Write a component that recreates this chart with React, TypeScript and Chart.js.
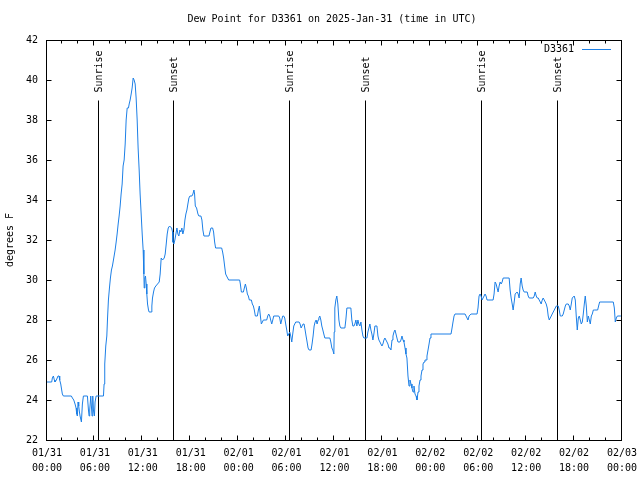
import React, { useEffect, useRef } from "react";
import { Chart, registerables } from "chart.js";

Chart.register(...registerables);

// ---------- text ----------
const TITLE = "Dew Point for D3361 on 2025-Jan-31 (time in UTC)";
const Y_LABEL = "degrees F";
const SERIES_LABEL = "D3361";

// ---------- axes ----------
const xTickDates = ["01/31", "01/31", "01/31", "01/31", "02/01", "02/01", "02/01", "02/01", "02/02", "02/02", "02/02", "02/02", "02/03"];
const xTickTimes = ["00:00", "06:00", "12:00", "18:00", "00:00", "06:00", "12:00", "18:00", "00:00", "06:00", "12:00", "18:00", "00:00"];
const xMinHours = 0;
const xMaxHours = 72;
const xMajorStepHours = 6;
const xMinorStepHours = 2;
const yMin = 22;
const yMax = 42;
const yStep = 2;

// ---------- sunrise / sunset markers (hours since 01/31 00:00 UTC) ----------
const eventHours = [6.39, 15.84, 30.37, 39.88, 54.41, 63.92];
const eventLabels = ["Sunrise", "Sunset", "Sunrise", "Sunset", "Sunrise", "Sunset"];
const eventLineTopF = 39;

// ---------- series: hours since 01/31 00:00 UTC ----------
const hours = [
  0.0, 0.59, 0.67, 0.8, 0.92, 1.0, 1.17, 1.38, 1.51, 1.59, 1.72, 1.84, 1.92, 2.05, 3.05, 3.18, 3.35, 3.51, 3.64, 3.72,
  3.8, 3.89, 3.97, 4.06, 4.14, 4.22, 4.31, 4.43, 4.56, 5.06, 5.19, 5.27, 5.35, 5.48, 5.56, 5.64, 5.73, 5.81, 5.94, 6.02,
  6.15, 7.07, 7.15, 7.23, 7.36, 7.49, 7.57, 7.69, 7.82, 7.94, 8.07, 8.19, 8.32, 8.53, 8.66, 8.78, 8.91, 9.03, 9.16, 9.28,
  9.41, 9.53, 9.66, 9.79, 9.91, 10.04, 10.2, 10.29, 10.41, 10.54, 10.66, 10.79, 10.91, 11.04, 11.16, 11.29, 11.41, 11.54, 11.66, 11.79,
  11.92, 12.04, 12.13, 12.17, 12.25, 12.33, 12.42, 12.5, 12.59, 12.71, 12.79, 13.05, 13.13, 13.21, 13.34, 13.46, 13.63, 13.84, 14.05, 14.17,
  14.3, 14.47, 14.68, 14.8, 14.93, 15.05, 15.18, 15.35, 15.6, 15.72, 15.76, 15.89, 16.01, 16.14, 16.27, 16.39, 16.51, 16.64, 16.76, 16.89,
  17.01, 17.14, 17.27, 17.39, 17.52, 17.64, 17.77, 17.9, 18.15, 18.27, 18.4, 18.48, 18.57, 18.73, 18.9, 19.02, 19.27, 19.4, 19.52, 19.65,
  20.28, 20.4, 20.53, 20.74, 20.86, 20.99, 21.11, 21.87, 21.99, 22.12, 22.24, 22.37, 22.49, 22.62, 22.75, 24.12, 24.21, 24.34, 24.59, 24.71,
  24.84, 24.96, 25.09, 25.21, 25.34, 25.59, 25.71, 25.84, 25.96, 26.09, 26.34, 26.47, 26.59, 26.72, 26.84, 26.97, 27.09, 27.51, 27.64, 27.76,
  27.89, 28.01, 28.14, 28.27, 28.39, 29.02, 29.14, 29.27, 29.39, 29.52, 29.64, 29.77, 29.89, 30.02, 30.14, 30.27, 30.4, 30.52, 30.65, 30.77,
  30.9, 31.02, 31.15, 31.57, 31.69, 31.82, 31.94, 32.07, 32.19, 32.32, 32.44, 32.57, 32.69, 32.82, 33.07, 33.19, 33.32, 33.45, 33.57, 33.7,
  33.82, 33.95, 34.04, 34.16, 34.29, 34.41, 34.54, 34.66, 34.79, 35.42, 35.54, 35.67, 35.79, 35.92, 35.96, 36.04, 36.17, 36.29, 36.42, 36.55,
  36.67, 36.8, 37.3, 37.42, 37.55, 38.05, 38.17, 38.3, 38.43, 38.55, 38.68, 38.8, 38.93, 39.05, 39.18, 39.31, 39.43, 39.56, 39.68, 40.06,
  40.18, 40.31, 40.43, 40.56, 40.68, 40.81, 40.93, 41.06, 41.31, 41.44, 41.56, 41.69, 41.81, 41.94, 42.06, 42.19, 42.31, 42.44, 42.57, 42.69,
  42.82, 42.94, 43.07, 43.2, 43.32, 43.45, 43.57, 43.7, 43.82, 43.95, 44.2, 44.32, 44.45, 44.58, 44.7, 44.83, 44.95, 45.07, 45.2, 45.33,
  45.45, 45.58, 45.7, 45.83, 45.95, 46.08, 46.21, 46.33, 46.46, 46.58, 46.71, 46.83, 46.96, 47.08, 47.21, 47.33, 47.46, 47.58, 47.71, 47.84,
  47.96, 48.08, 50.59, 50.72, 50.84, 50.97, 51.09, 52.35, 52.47, 52.72, 52.85, 53.1, 53.85, 53.97, 54.1, 54.23, 54.35, 54.48, 54.6, 54.73,
  54.85, 54.98, 55.1, 55.86, 55.98, 56.11, 56.24, 56.36, 56.49, 56.61, 56.74, 56.87, 56.99, 57.12, 57.87, 57.99, 58.12, 58.25, 58.37, 58.5,
  58.62, 58.87, 59.0, 59.12, 59.25, 59.37, 59.5, 59.62, 59.75, 60.13, 60.25, 60.38, 60.88, 61.01, 61.13, 61.26, 61.38, 61.51, 61.63, 61.76,
  61.88, 62.01, 62.13, 62.26, 62.39, 62.51, 62.64, 62.76, 62.89, 63.01, 63.14, 63.26, 63.39, 63.52, 63.64, 63.77, 63.89, 64.02, 64.14, 64.27,
  64.39, 64.52, 64.64, 64.77, 64.9, 65.02, 65.27, 65.4, 65.52, 65.65, 65.77, 66.02, 66.15, 66.27, 66.4, 66.53, 66.65, 66.78, 66.9, 67.03,
  67.15, 67.28, 67.4, 67.53, 67.66, 67.78, 67.91, 68.03, 68.16, 68.28, 68.41, 68.53, 68.95, 69.07, 69.2, 70.91, 71.04, 71.16, 71.29, 71.42,
  71.83, 72.0,
];

// ---------- series: dew point, degrees F ----------
const dewPointF = [
  24.9, 24.9, 25.1, 25.2, 25.0, 24.9, 25.0, 25.2, 25.2, 25.0, 24.8, 24.5, 24.3, 24.2, 24.2, 24.1, 24.0, 23.8, 23.6, 23.3,
  23.2, 23.9, 23.7, 23.4, 23.2, 23.2, 22.9, 23.8, 24.2, 24.2, 23.5, 23.2, 23.5, 24.2, 23.7, 23.2, 24.2, 23.5, 23.2, 23.9,
  24.2, 24.2, 24.8, 25.8, 26.7, 27.2, 28.0, 29.0, 29.6, 30.1, 30.5, 30.7, 31.0, 31.5, 31.9, 32.3, 32.8, 33.2, 33.7, 34.3,
  34.8, 35.7, 36.0, 36.8, 38.0, 38.6, 38.6, 38.8, 39.0, 39.3, 39.6, 40.1, 40.0, 39.8, 39.1, 38.0, 36.6, 35.5, 34.3, 33.3,
  32.3, 31.5, 30.3, 29.6, 30.1, 30.2, 29.8, 29.3, 28.8, 28.5, 28.4, 28.4, 28.7, 29.1, 29.4, 29.6, 29.7, 29.8, 29.9, 30.3,
  31.1, 31.0, 31.1, 31.3, 31.8, 32.3, 32.6, 32.7, 32.6, 32.4, 31.9, 31.8, 32.0, 32.3, 32.6, 32.3, 32.2, 32.5, 32.4, 32.6,
  32.3, 32.5, 33.0, 33.3, 33.5, 33.8, 34.1, 34.2, 34.2, 34.3, 34.5, 34.3, 33.7, 33.6, 33.3, 33.2, 33.2, 33.0, 32.5, 32.2,
  32.2, 32.4, 32.6, 32.6, 32.4, 31.9, 31.6, 31.6, 31.4, 31.1, 30.7, 30.3, 30.2, 30.1, 30.0, 30.0, 29.8, 29.4, 29.4, 29.6,
  29.8, 29.6, 29.3, 29.2, 29.0, 29.0, 28.8, 28.7, 28.5, 28.2, 28.2, 28.5, 28.7, 28.2, 27.8, 27.9, 28.0, 28.0, 28.2, 28.3,
  28.2, 28.0, 27.8, 28.0, 28.2, 28.2, 28.1, 27.8, 28.0, 28.2, 28.2, 28.1, 27.8, 27.5, 27.2, 27.3, 27.4, 27.2, 26.9, 27.3,
  27.7, 27.8, 27.9, 27.9, 27.8, 27.6, 27.7, 27.8, 27.8, 27.5, 27.2, 26.9, 26.6, 26.5, 26.5, 26.8, 27.2, 27.7, 27.9, 28.0,
  27.8, 28.0, 28.1, 28.2, 28.0, 27.7, 27.5, 27.3, 27.1, 27.1, 26.9, 26.6, 26.5, 26.3, 27.4, 28.6, 29.0, 29.2, 28.8, 28.0,
  27.7, 27.6, 27.6, 28.0, 28.6, 28.6, 28.0, 27.7, 27.7, 27.8, 28.0, 27.7, 28.0, 27.8, 27.7, 27.9, 27.5, 27.2, 27.1, 27.1,
  27.4, 27.6, 27.8, 27.5, 27.3, 27.0, 27.3, 27.7, 27.7, 27.2, 27.0, 26.9, 26.8, 26.7, 26.8, 27.0, 27.1, 27.0, 26.9, 26.8,
  26.6, 26.6, 26.5, 27.0, 27.2, 27.4, 27.5, 27.3, 27.1, 26.9, 26.9, 27.0, 27.2, 27.0, 26.9, 26.6, 26.3, 26.1, 25.2, 24.7,
  25.0, 24.8, 24.6, 24.4, 24.7, 24.3, 24.2, 24.0, 24.4, 24.7, 25.0, 25.2, 25.5, 25.8, 25.9, 26.0, 26.0, 26.2, 26.5, 26.8,
  27.1, 27.3, 27.3, 27.6, 27.9, 28.2, 28.3, 28.3, 28.2, 28.0, 28.2, 28.3, 28.3, 28.6, 29.2, 29.3, 29.2, 29.0, 29.1, 29.2,
  29.3, 29.2, 29.0, 29.0, 29.3, 29.9, 29.8, 29.6, 29.4, 29.7, 29.9, 29.8, 29.9, 30.1, 30.1, 29.5, 29.1, 28.8, 28.5, 28.9,
  29.3, 29.4, 29.3, 29.1, 29.8, 30.1, 29.7, 29.5, 29.4, 29.4, 29.2, 29.1, 29.1, 29.2, 29.4, 29.2, 29.1, 29.1, 29.0, 28.9,
  28.8, 29.0, 29.1, 29.0, 28.9, 28.8, 28.6, 28.2, 28.0, 28.1, 28.2, 28.3, 28.4, 28.5, 28.6, 28.7, 28.7, 28.7, 28.5, 28.2,
  28.2, 28.2, 28.3, 28.5, 28.7, 28.8, 28.8, 28.7, 28.5, 28.8, 29.1, 29.2, 29.0, 28.2, 27.5, 28.1, 28.2, 28.0, 27.8, 27.9,
  28.3, 28.8, 29.2, 28.7, 27.9, 28.2, 28.0, 27.8, 28.2, 28.3, 28.5, 28.5, 28.5, 28.7, 28.9, 28.9, 28.6, 27.9, 28.1, 28.2,
  28.2, 28.2,
];

// ---------- styles ----------
const FONT_FAMILY = '"DejaVu Sans Mono", "Liberation Mono", monospace';
const FONT = `10px ${FONT_FAMILY}`;
const LINE_COLOR = "#1c7fe6";

const decorPlugin = {
  id: "decor",
  beforeDatasetsDraw(chart: any) {
    const { ctx, chartArea: a, scales } = chart;
    const x = scales.x;
    const y = scales.y;
    ctx.save();
    ctx.strokeStyle = "#000";
    ctx.fillStyle = "#000";
    ctx.lineWidth = 1;
    ctx.font = FONT;
    const topY = Math.round(y.getPixelForValue(eventLineTopF)) + 0.5;
    eventHours.forEach((h, i) => {
      const px = Math.round(x.getPixelForValue(h) - 0.5) + 0.5;
      ctx.beginPath();
      ctx.moveTo(px, topY);
      ctx.lineTo(px, a.bottom);
      ctx.stroke();
      ctx.save();
      ctx.translate(px + 1, topY - 8);
      ctx.rotate(-Math.PI / 2);
      ctx.textAlign = "left";
      ctx.textBaseline = "middle";
      ctx.fillText(eventLabels[i], 0, 0);
      ctx.restore();
    });
    ctx.restore();
  },
  afterDatasetsDraw(chart: any) {
    const { ctx, chartArea: a, scales } = chart;
    const x = scales.x;
    const y = scales.y;
    const L = a.left - 0.5;
    const R = a.right - 0.5;
    const T = a.top + 0.5;
    const B = a.bottom + 0.5;
    ctx.save();
    ctx.strokeStyle = "#000";
    ctx.lineWidth = 1;
    // frame
    ctx.strokeRect(L, T, R - L, B - T);
    // x ticks (bottom and mirrored at top)
    ctx.beginPath();
    for (let h = xMinHours; h <= xMaxHours; h += xMinorStepHours) {
      const px = Math.floor(x.getPixelForValue(h)) - 0.5;
      const len = h % xMajorStepHours === 0 ? 5 : 3;
      ctx.moveTo(px, B);
      ctx.lineTo(px, B - len);
      ctx.moveTo(px, T);
      ctx.lineTo(px, T + len);
    }
    // y ticks (left and mirrored at right)
    for (let v = yMin; v <= yMax; v += yStep) {
      const py = Math.round(y.getPixelForValue(v)) + 0.5;
      ctx.moveTo(L, py);
      ctx.lineTo(L + 5, py);
      ctx.moveTo(R, py);
      ctx.lineTo(R - 5, py);
    }
    ctx.stroke();

    // legend (text then line sample, top right)
    ctx.font = FONT;
    ctx.fillStyle = "#000";
    ctx.textAlign = "right";
    ctx.textBaseline = "middle";
    ctx.fillText(chart.data.datasets[0].label, 574, 49);
    ctx.strokeStyle = LINE_COLOR;
    ctx.beginPath();
    ctx.moveTo(582, 49.5);
    ctx.lineTo(611, 49.5);
    ctx.stroke();

    // title
    ctx.fillStyle = "#000";
    ctx.textAlign = "center";
    ctx.fillText(TITLE, 332, 19);

    // y axis label
    ctx.save();
    ctx.translate(10, 240);
    ctx.rotate(-Math.PI / 2);
    ctx.textAlign = "center";
    ctx.textBaseline = "middle";
    ctx.fillText(Y_LABEL, 0, 0);
    ctx.restore();

    ctx.restore();
  },
};

export default function App() {
  const canvasRef = useRef<HTMLCanvasElement | null>(null);

  useEffect(() => {
    const canvas = canvasRef.current;
    if (!canvas) return;
    const points = hours.map((h, i) => ({ x: h, y: dewPointF[i] }));
    const chart = new Chart(canvas, {
      type: "line",
      data: {
        datasets: [
          {
            label: SERIES_LABEL,
            data: points,
            borderColor: LINE_COLOR,
            backgroundColor: LINE_COLOR,
            borderWidth: 1,
            pointRadius: 0,
            tension: 0,
            fill: false,
          },
        ],
      },
      options: {
        animation: false,
        responsive: false,
        devicePixelRatio: 1,
        parsing: false as any,
        layout: { padding: { top: 40, right: 18, left: 0, bottom: 0 } },
        plugins: {
          legend: { display: false },
          title: { display: false },
          tooltip: { enabled: false },
        },
        scales: {
          x: {
            type: "linear",
            min: xMinHours,
            max: xMaxHours,
            afterFit: (s: any) => {
              s.height = 40;
              s.paddingLeft = 0;
              s.paddingRight = 0;
            },
            grid: { display: false, drawTicks: false },
            border: { display: false },
            ticks: {
              stepSize: xMajorStepHours,
              autoSkip: false,
              maxRotation: 0,
              minRotation: 0,
              padding: 6,
              color: "#000",
              font: { family: FONT_FAMILY, size: 10, lineHeight: 1.5 },
              callback: (v: any) => {
                const i = Math.round(Number(v) / xMajorStepHours);
                return [xTickDates[i], xTickTimes[i]];
              },
            },
          },
          y: {
            type: "linear",
            min: yMin,
            max: yMax,
            afterFit: (s: any) => {
              s.width = 47;
              s.paddingTop = 0;
              s.paddingBottom = 0;
            },
            grid: { display: false, drawTicks: false },
            border: { display: false },
            ticks: {
              stepSize: yStep,
              padding: 9,
              color: "#000",
              font: { family: FONT_FAMILY, size: 10 },
            },
          },
        },
      },
      plugins: [decorPlugin],
    });
    return () => chart.destroy();
  }, []);

  return (
    <div style={{ position: "absolute", left: 0, top: 0, width: 640, height: 480, background: "#fff" }}>
      <canvas ref={canvasRef} width={640} height={480} style={{ width: 640, height: 480, display: "block" }} />
    </div>
  );
}
